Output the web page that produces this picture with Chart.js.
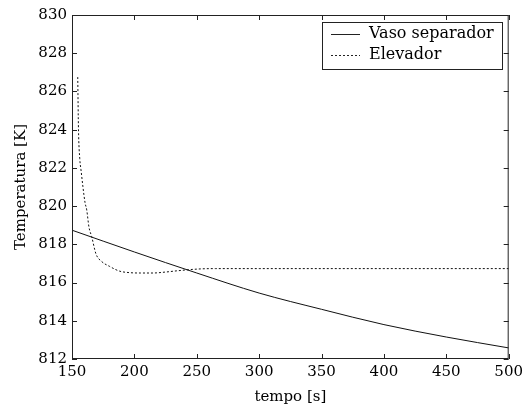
<!DOCTYPE html>
<html>
<head>
<meta charset="utf-8">
<script src="https://cdn.jsdelivr.net/npm/chart.js@4/dist/chart.umd.min.js"></script>
<style>
  html, body { margin: 0; padding: 0; background: #fff; }
  #wrap { width: 527px; height: 406px; }
</style>
</head>
<body>
<div id="wrap"><canvas id="chart" width="527" height="406"></canvas></div>
<script>
// data
var vasoTime = [150, 200, 250, 300, 350, 400, 450, 500];
var vasoTemp = [818.74, 817.6, 816.5, 815.45, 814.6, 813.8, 813.15, 812.58];

var elevTime = [154.6, 155.2, 156.2, 157.2, 160.4, 161.8, 163.6, 165.8, 169.2, 173.8, 180, 188, 196, 205, 215, 225, 235, 245, 255, 265, 300, 400, 500];
var elevTemp = [826.75, 824.0, 822.5, 821.9, 820.2, 819.8, 818.9, 818.4, 817.5, 817.1, 816.85, 816.6, 816.52, 816.5, 816.5, 816.55, 816.62, 816.68, 816.72, 816.73, 816.73, 816.73, 816.73];

var xTicks = [150, 200, 250, 300, 350, 400, 450, 500];
var yTicks = [812, 814, 816, 818, 820, 822, 824, 826, 828, 830];
var seriesNames = ["Vaso separador", "Elevador"];

function pts(xs, ys) {
    var out = [];
    for (var i = 0; i < xs.length; i++) out.push({x: xs[i], y: ys[i]});
    return out;
}

var FONT = "'DejaVu Serif', 'Liberation Serif', serif";

// ticks pointing inward on all four sides, plus the legend box
var boxPlugin = {
    id: "boxTicks",
    afterDraw: function(chart) {
        var ctx = chart.ctx, a = chart.chartArea;
        var sx = chart.scales.x, sy = chart.scales.y;
        ctx.save();
        ctx.strokeStyle = "#222";
        ctx.lineWidth = 1;
        ctx.strokeRect(a.left + 0.5, a.top + 0.5, a.right - a.left - 1, a.bottom - a.top - 1);
        ctx.beginPath();
        xTicks.forEach(function(v) {
            var px = Math.round(sx.getPixelForValue(v)) + 0.5;
            ctx.moveTo(px, a.bottom); ctx.lineTo(px, a.bottom - 5);
            ctx.moveTo(px, a.top); ctx.lineTo(px, a.top + 5);
        });
        yTicks.forEach(function(v) {
            var py = Math.round(sy.getPixelForValue(v)) + 0.5;
            ctx.moveTo(a.left, py); ctx.lineTo(a.left + 5, py);
            ctx.moveTo(a.right, py); ctx.lineTo(a.right - 5, py);
        });
        ctx.stroke();

        // legend
        var lx = 322, ly = 22, lw = 180, lh = 47;
        ctx.fillStyle = "#fff";
        ctx.fillRect(lx, ly, lw, lh);
        ctx.strokeRect(lx + 0.5, ly + 0.5, lw, lh);
        ctx.font = "16px " + FONT;
        ctx.fillStyle = "#000";
        ctx.textBaseline = "middle";
        ctx.beginPath();
        ctx.moveTo(331, 34.5); ctx.lineTo(360, 34.5);
        ctx.stroke();
        ctx.setLineDash([2, 2]);
        ctx.beginPath();
        ctx.moveTo(331, 55.5); ctx.lineTo(360, 55.5);
        ctx.stroke();
        ctx.setLineDash([]);
        ctx.fillText(seriesNames[0], 369, 34);
        ctx.fillText(seriesNames[1], 369, 55);
        ctx.restore();
    }
};

var ctx = document.getElementById("chart").getContext("2d");
var myChart = new Chart(ctx, {
    type: "scatter",
    data: {
        datasets: [{
                label: seriesNames[0],
                data: pts(vasoTime, vasoTemp),
                showLine: true,
                borderColor: "#111",
                borderWidth: 1,
                pointRadius: 0,
                cubicInterpolationMode: "monotone"
            },
            {
                label: seriesNames[1],
                data: pts(elevTime, elevTemp),
                showLine: true,
                borderColor: "#111",
                borderWidth: 1,
                borderDash: [2, 2],
                pointRadius: 0,
                cubicInterpolationMode: "monotone"
            }
        ]
    },
    options: {
        responsive: false,
        animation: false,
        layout: { padding: { top: 15, right: 18, left: 0, bottom: 0 } },
        plugins: { legend: { display: false }, tooltip: { enabled: false } },
        scales: {
            x: {
                type: "linear", min: 150, max: 500,
                afterBuildTicks: function(s) { s.ticks = xTicks.map(function(v) { return {value: v}; }); },
                grid: { display: false, drawTicks: false },
                border: { display: false },
                ticks: { color: "#000", font: { family: FONT, size: 15 }, padding: 4, maxRotation: 0 },
                title: { display: true, text: "tempo [s]", color: "#000", font: { family: FONT, size: 15 }, padding: { top: 4, bottom: 0 } },
                afterFit: function(s) { s.height = 47; }
            },
            y: {
                type: "linear", min: 812, max: 830,
                afterBuildTicks: function(s) { s.ticks = yTicks.map(function(v) { return {value: v}; }); },
                grid: { display: false, drawTicks: false },
                border: { display: false },
                ticks: { color: "#000", font: { family: FONT, size: 15 }, padding: 5 },
                title: { display: true, text: "Temperatura [K]", color: "#000", font: { family: FONT, size: 15 }, padding: { top: 12, bottom: 0 } },
                afterFit: function(s) { s.width = 72; }
            }
        }
    },
    plugins: [boxPlugin]
});
</script>
</body>
</html>
